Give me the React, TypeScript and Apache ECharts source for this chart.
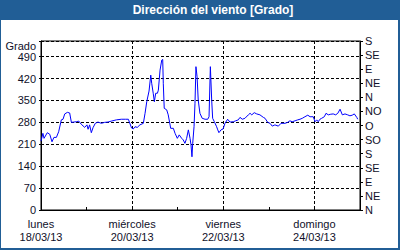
import React, { useEffect, useRef } from "react";
import * as echarts from "echarts";

// Hours since lunes 18/03/13 00:00
const hours = [
  0, 1, 1.6, 3.3, 4.6, 5.8, 6.8, 8.1, 9.3, 10.7, 11.6, 12.5, 13.9, 15.1, 16.0, 18.6, 19.9, 21.2, 23.0,
  24.2, 24.8, 25.6, 26.5, 27.4, 28.6, 30.0, 31.8, 33.5, 35.3, 37.0, 39.7, 42.3, 44.4, 46.0, 47.7,
  48.6, 49.5, 50.7, 52.1, 53.9, 54.8, 55.7, 56.9, 57.8, 58.3, 59.1, 59.7, 60.4, 61.3, 61.8, 62.7,
  63.6, 64.1, 64.4, 64.9, 66.2, 67.0, 68.3, 69.7, 70.6, 71.8, 72.8, 74.1, 74.9, 75.8, 76.7, 77.6,
  78.5, 79.0, 79.5, 79.9, 80.6, 81.1, 81.6, 82.2, 82.8, 83.7, 84.9, 86.4, 87.8, 88.5, 89.2, 89.9,
  90.4, 91.3, 92.5, 93.1, 93.7, 94.8, 95.9, 96.9, 98.3, 99.5, 101.3, 102.5, 103.9, 104.8, 106.0,
  107.4, 109.2, 110.1, 111.0, 112.3, 113.6, 115.3, 117.1, 118.0, 119.4, 120.6, 121.8, 123.2, 125.0,
  126.4, 128.5, 129.9, 131.1, 132.3, 133.8, 135.2, 136.4, 137.6, 139.0, 140.5, 141.7, 143.4, 144.3,
  145.2, 146.0, 146.9, 147.8, 149.2, 150.1, 151.3, 152.6, 153.9, 155.2, 156.3, 157.5, 158.7, 160.1,
  161.5, 162.7, 163.9, 165.0, 166.3, 166.8,
];

// Wind direction, degrees
const degrees = [
  220, 245, 229, 247, 242, 218, 232, 232, 250, 288, 290, 307, 312, 310, 280, 282, 284, 274, 264,
  272, 258, 272, 247, 263, 277, 281, 277, 280, 281, 284, 288, 290, 290, 290, 262,
  259, 266, 264, 272, 277, 309, 346, 380, 431, 405, 373, 346, 373, 373, 383, 447,
  479, 481, 405, 325, 320, 304, 261, 261, 245, 229, 240, 229, 224, 213, 229, 256,
  229, 208, 170, 213, 266, 341, 458, 426, 351, 309, 293, 290, 290, 298, 458, 351,
  293, 282, 266, 256, 247, 256, 259, 277, 290, 281, 282, 285, 288, 296, 290,
  293, 304, 309, 304, 311, 307, 304, 296, 293, 280, 277, 268, 272, 268,
  277, 277, 280, 285, 282, 285, 288, 290, 293, 298, 303, 298, 298, 282,
  288, 282, 290, 293, 298, 309, 304, 306, 307, 304, 309, 322, 304, 307,
  304, 301, 303, 307, 296, 290,
];

const dayNames = ["lunes", "miércoles", "viernes", "domingo"];
const dayDates = ["18/03/13", "20/03/13", "22/03/13", "24/03/13"];
const compass = ["N", "NE", "E", "SE", "S", "SO", "O", "NO", "N", "NE", "E", "SE", "S"];

const TITLE = "Dirección del viento [Grado]";
const UNIT = "Grado";

const BLUE = "#215e96";
const TXT = "#10102a";
const FONT = "Liberation Sans";

export default function App() {
  const ref = useRef<HTMLDivElement>(null);
  useEffect(() => {
    if (!ref.current) return;
    const chart = echarts.init(ref.current, null, { renderer: "svg" });
    const data = hours.map((h, i) => [h, degrees[i]]);
    chart.setOption({
      animation: false,
      backgroundColor: "#ffffff",
      textStyle: { fontFamily: FONT },
      graphic: [
        { type: "rect", shape: { x: 0, y: 0, width: 400, height: 20 }, style: { fill: BLUE }, silent: true },
        { type: "rect", shape: { x: 0, y: 0, width: 1, height: 250 }, style: { fill: BLUE }, silent: true },
        { type: "rect", shape: { x: 398, y: 0, width: 2, height: 250 }, style: { fill: BLUE }, silent: true },
        { type: "rect", shape: { x: 0, y: 248, width: 400, height: 2 }, style: { fill: BLUE }, silent: true },
        {
          type: "text",
          x: 213,
          y: 10,
          style: {
            text: TITLE,
            fill: "#ffffff",
            font: `bold 12px "${FONT}"`,
            textAlign: "center",
            textVerticalAlign: "middle",
          },
          silent: true,
        },
        {
          type: "text",
          x: 36,
          y: 46,
          style: {
            text: UNIT,
            fill: TXT,
            font: `11px "${FONT}"`,
            textAlign: "right",
            textVerticalAlign: "middle",
          },
          silent: true,
        },
      ],
      grid: {
        left: 41,
        right: 40,
        top: 41,
        bottom: 40,
        show: true,
        borderColor: "#000",
        borderWidth: 1,
        backgroundColor: "transparent",
      },
      xAxis: {
        type: "value",
        min: 0,
        max: 168,
        interval: 48,
        axisLine: { show: true, lineStyle: { color: "#000", width: 1 } },
        axisTick: { show: true, inside: true, length: 3, lineStyle: { color: "#000" } },
        minorTick: { show: true, splitNumber: 2, length: 3, lineStyle: { color: "#000" } },
        splitLine: { show: true, lineStyle: { color: "#000", type: [3, 2], width: 1 } },
        axisLabel: {
          color: TXT,
          fontSize: 11,
          fontFamily: FONT,
          lineHeight: 13,
          margin: 7,
          showMaxLabel: false,
          formatter: (v: number) => {
            const i = Math.round(v / 48);
            if (v % 48 !== 0 || i >= dayNames.length) return "";
            return dayNames[i] + "\n" + dayDates[i];
          },
        },
      },
      yAxis: [
        {
          type: "value",
          min: 0,
          max: 540,
          interval: 70,
          position: "left",
          axisLine: { show: true, lineStyle: { color: "#000", width: 1 } },
          axisTick: { show: true, length: 2, lineStyle: { color: "#000" } },
          splitLine: { show: true, lineStyle: { color: "#000", type: [3, 2], width: 1 } },
          axisLabel: {
            color: TXT,
            fontSize: 11,
            fontFamily: FONT,
            margin: 5,
            formatter: (v: number) => (v % 70 === 0 ? String(v) : ""),
          },
        },
        {
          type: "value",
          min: 0,
          max: 540,
          interval: 45,
          position: "right",
          axisLine: { show: true, lineStyle: { color: "#000", width: 1 } },
          axisTick: { show: true, length: 3, lineStyle: { color: "#000" } },
          splitLine: { show: false },
          axisLabel: {
            color: TXT,
            fontSize: 11,
            fontFamily: FONT,
            margin: 5,
            formatter: (v: number) => compass[Math.round(v / 45)] ?? "",
          },
        },
      ],
      series: [
        {
          type: "line",
          data,
          xAxisIndex: 0,
          yAxisIndex: 0,
          showSymbol: false,
          symbol: "none",
          lineStyle: { color: "#0000ff", width: 1 },
          silent: true,
        },
      ],
    });
    return () => chart.dispose();
  }, []);
  return (
    <div style={{ position: "absolute", left: 0, top: 0, width: 400, height: 250 }}>
      <div ref={ref} style={{ width: 400, height: 250 }} />
    </div>
  );
}
